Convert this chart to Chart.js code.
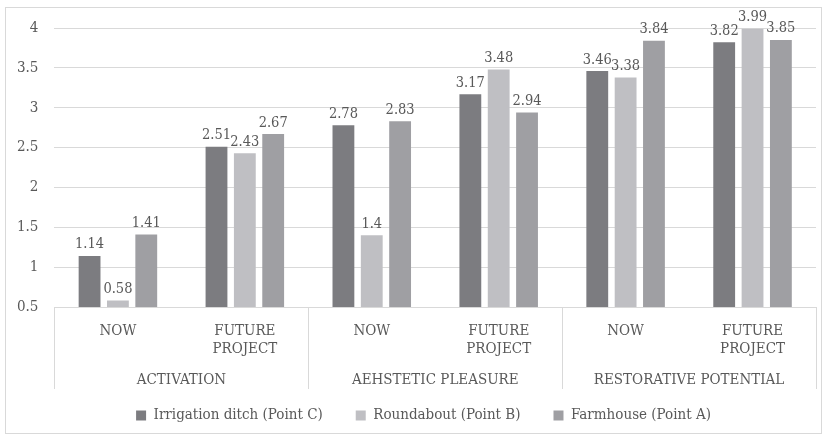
<!DOCTYPE html>
<html>
<head>
<meta charset="utf-8">
<script src="https://cdn.jsdelivr.net/npm/chart.js@4"></script>
<style>
html,body{margin:0;padding:0;background:#fff;}
#wrap{position:absolute;left:0;top:0;width:826px;height:438px;}
</style>
</head>
<body>
<div id="wrap"><canvas id="c" width="826" height="438"></canvas></div>
<script>
const categories = [['NOW'], ['FUTURE', 'PROJECT'], ['NOW'], ['FUTURE', 'PROJECT'], ['NOW'], ['FUTURE', 'PROJECT']];
const groups = ['ACTIVATION', 'AEHSTETIC PLEASURE', 'RESTORATIVE POTENTIAL'];
const seriesNames = ['Irrigation ditch (Point C)', 'Roundabout (Point B)', 'Farmhouse (Point A)'];
const irrigation = [1.14, 2.51, 2.78, 3.17, 3.46, 3.82];
const roundabout = [0.58, 2.43, 1.4, 3.48, 3.38, 3.99];
const farmhouse = [1.41, 2.67, 2.83, 2.94, 3.84, 3.85];
const yTicks = [0.5, 1, 1.5, 2, 2.5, 3, 3.5, 4];

const FONT = '"DejaVu Serif Condensed", "Liberation Serif", serif';
const TXT = '#595959';
const GRID = '#d9d9d9';
const colors = ['#7c7c80', '#bfbfc3', '#9f9fa3'];

const frame = {
  id: 'frame',
  afterLayout(chart) {
    const lg = chart.legend;
    if (lg) {
      const h = lg.bottom - lg.top;
      lg.top = 375;
      lg.bottom = lg.top + h;
      lg.left += 15;
      lg.right += 15;
    }
  },
  beforeDraw(chart) {
    const ctx = chart.ctx;
    ctx.save();
    ctx.strokeStyle = GRID;
    ctx.lineWidth = 1;
    ctx.strokeRect(5.5, 7.5, 816, 426);
    ctx.restore();
  },
  afterDraw(chart) {
    const ctx = chart.ctx;
    const x = chart.scales.x;
    const x2 = chart.scales.x2;
    const w = (x.right - x.left) / categories.length;
    ctx.save();
    ctx.strokeStyle = GRID;
    ctx.lineWidth = 1;
    for (let i = 0; i <= categories.length; i += 2) {
      const px = Math.round(x.left + i * w) + 0.5;
      ctx.beginPath();
      ctx.moveTo(px, chart.chartArea.bottom);
      ctx.lineTo(px, x2.bottom);
      ctx.stroke();
    }
    ctx.restore();
  }
};

const valueLabels = {
  id: 'valueLabels',
  afterDatasetsDraw(chart) {
    const ctx = chart.ctx;
    ctx.save();
    ctx.font = '14.5px ' + FONT;
    ctx.fillStyle = TXT;
    ctx.textAlign = 'center';
    ctx.textBaseline = 'bottom';
    chart.data.datasets.forEach((ds, di) => {
      const meta = chart.getDatasetMeta(di);
      meta.data.forEach((el, i) => {
        ctx.fillText(String(ds.data[i]), el.x, el.y - 4);
      });
    });
    ctx.restore();
  }
};

new Chart(document.getElementById('c'), {
  type: 'bar',
  data: {
    labels: categories,
    datasets: [
      { label: seriesNames[0], data: irrigation, backgroundColor: colors[0] },
      { label: seriesNames[1], data: roundabout, backgroundColor: colors[1] },
      { label: seriesNames[2], data: farmhouse, backgroundColor: colors[2] }
    ]
  },
  options: {
    responsive: false,
    animation: false,
    devicePixelRatio: 1,
    categoryPercentage: 0.67,
    barPercentage: 0.77,
    layout: { padding: { left: 1, right: 10, top: 28, bottom: -9 } },
    plugins: {
      legend: {
        position: 'bottom',
        labels: {
          font: { family: FONT, size: 15 },
          color: TXT,
          boxWidth: 10,
          boxHeight: 10,
          padding: 33
        }
      },
      tooltip: { enabled: false }
    },
    scales: {
      y: {
        min: 0.5,
        max: 4,
        afterBuildTicks(scale) { scale.ticks = yTicks.map(v => ({ value: v })); },
        ticks: { font: { family: FONT, size: 15 }, color: TXT, padding: 16, callback: v => String(v) },
        grid: { color: GRID, drawTicks: false },
        border: { display: false }
      },
      x: {
        grid: { display: false, drawTicks: false },
        border: { display: true, color: GRID },
        ticks: { font: { family: FONT, size: 15, lineHeight: 1.2 }, color: TXT, padding: 15, maxRotation: 0 },
        afterFit(scale) { scale.height = 50; }
      },
      x2: {
        type: 'category',
        labels: groups,
        position: 'bottom',
        offset: true,
        grid: { display: false, drawTicks: false },
        border: { display: false },
        ticks: { font: { family: FONT, size: 15 }, color: TXT, padding: 14, maxRotation: 0 },
        afterFit(scale) { scale.height = 32; }
      }
    }
  },
  plugins: [frame, valueLabels]
});
</script>
</body>
</html>
